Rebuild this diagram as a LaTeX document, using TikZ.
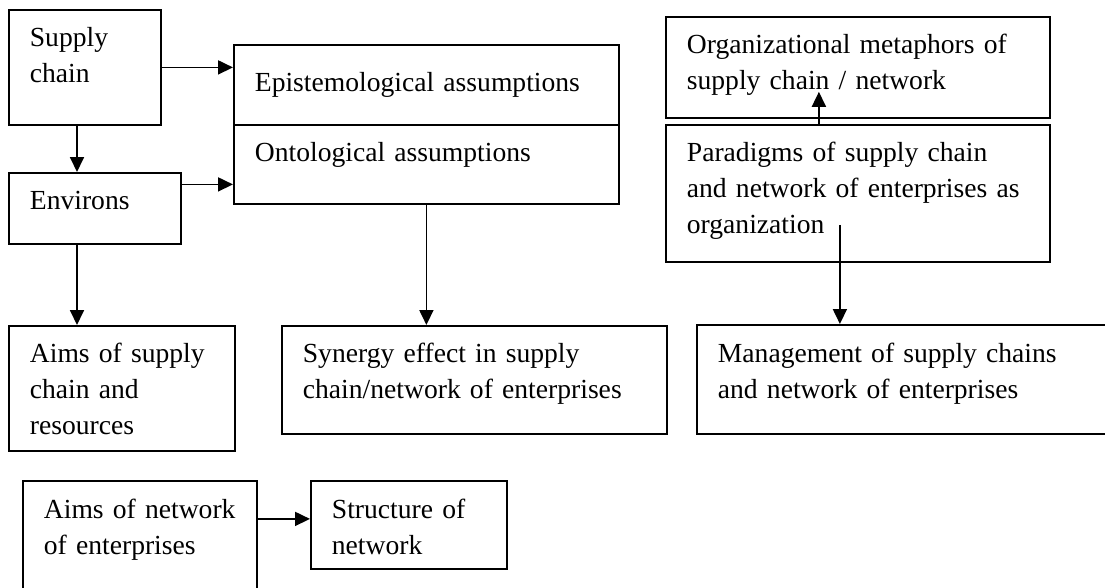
\documentclass[tikz,border=0pt]{standalone}
\usepackage{fontspec}
\setmainfont{Liberation Serif}
\usetikzlibrary{arrows.meta}

\begin{document}
\begin{tikzpicture}[x=1pt,y=-1pt,
  box/.style={draw,line width=1.8pt,anchor=north west,align=left,inner xsep=21pt,inner ysep=0pt,
    font=\fontsize{27.6pt}{36pt}\selectfont,text height=37pt},
  arr/.style={line width=1.8pt,-{Triangle[length=15pt,width=14pt]}}]
  \useasboundingbox (0,0) rectangle (1105,587);
  \node[box,text width=110pt,text depth=78pt] (sc) at (8,9) {Supply\\chain};
  \node[box,text width=130pt,text depth=34pt] (env) at (8,172) {Environs};
  \node[box,text width=343pt,text height=47pt,text depth=33pt] (epi) at (233,44) {Epistemological assumptions};
  \node[box,text width=343pt,text depth=42pt] (ont) at (233,124) {Ontological assumptions};
  \node[box,text width=342pt,text depth=64pt] (org) at (665,16) {Organizational metaphors of\\supply chain / network};
  \node[box,text width=342pt,text depth=100pt] (par) at (665,124) {Paradigms of supply chain\\and network of enterprises as\\organization};
  \node[box,text width=184pt,text depth=88pt] (aimsc) at (8,325) {Aims of supply\\chain and\\resources};
  \node[box,text width=343pt,text depth=71pt] (syn) at (281,325) {Synergy effect in supply\\chain/network of enterprises};
  \node[box,text width=372pt,text height=38pt,text depth=71pt] (man) at (696,324) {Management of supply chains\\and network of enterprises};
  \node[box,text width=192pt,text height=38pt,text depth=74pt] (aimnet) at (22,480) {Aims of network\\of enterprises};
  \node[box,text width=154pt,text height=38pt,text depth=50pt] (str) at (310,480) {Structure of\\network};
  \coordinate (colA) at (77,0);
  \draw[arr] (sc.east) -- (sc.east -| epi.west);
  \draw[arr] (sc.south -| colA) -- (env.north -| colA);
  \draw[arr] ([yshift=24pt]env.east) -- ([yshift=24pt]env.east -| ont.west);
  \draw[arr] (env.south -| colA) -- (aimsc.north -| colA);
  \draw[arr] (ont.south) -- (ont.south |- syn.north);
  \draw[arr] ([xshift=-39pt]par.north) -- ([xshift=-39pt,yshift=27pt]par.north |- org.south);
  \draw[arr] ([xshift=-18pt,yshift=38pt]par.south) -- ([xshift=-18pt]par.south |- man.north);
  \draw[arr] ([yshift=6pt]str.west -| aimnet.east) -- ([yshift=6pt]str.west);
\end{tikzpicture}
\end{document}
